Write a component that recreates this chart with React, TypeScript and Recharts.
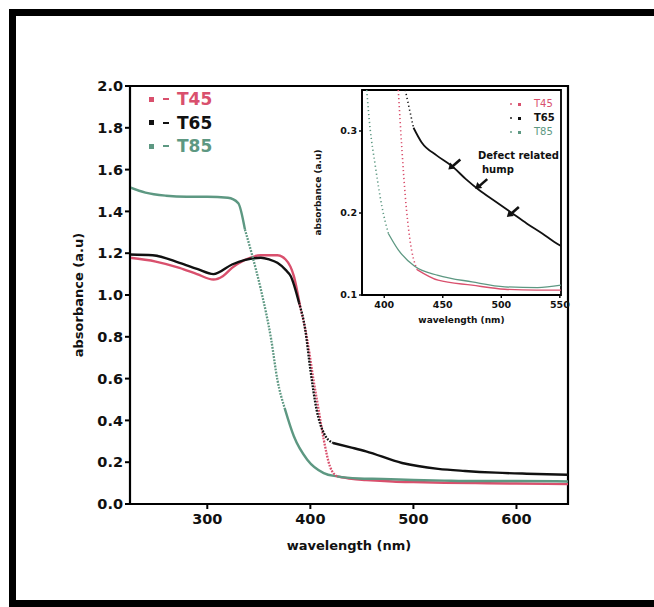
import React from 'react';
import { LineChart, Line, XAxis, YAxis, ReferenceArea, ReferenceDot } from 'recharts';

const seriesNames = ['T45', 'T65', 'T85'];

// main panel, wavelength (nm) / absorbance
const t45Nm = [225, 250, 273, 290, 306, 315, 324, 336, 352, 368, 376, 384, 390, 397, 403, 408, 413, 419, 426, 440, 454, 480, 500, 530, 560, 600, 650];
const t45Abs = [1.178, 1.16, 1.13, 1.1, 1.074, 1.09, 1.13, 1.167, 1.19, 1.19, 1.17, 1.09, 0.946, 0.787, 0.595, 0.452, 0.308, 0.18, 0.132, 0.12, 0.115, 0.108, 0.105, 0.102, 0.1, 0.098, 0.095];

const t65Nm = [225, 247, 273, 290, 306, 324, 336, 352, 360, 368, 376, 381, 389, 395, 400, 406, 413, 422, 440, 454, 489, 524, 550, 580, 610, 650];
const t65Abs = [1.194, 1.19, 1.154, 1.125, 1.1, 1.146, 1.167, 1.178, 1.17, 1.154, 1.12, 1.09, 0.963, 0.835, 0.643, 0.452, 0.34, 0.292, 0.27, 0.252, 0.196, 0.168, 0.158, 0.15, 0.145, 0.14];

const t85Nm = [225, 240, 260, 280, 300, 320, 330, 336.5, 343, 352, 362, 368, 375, 384, 397, 413, 426, 447, 470, 500, 530, 560, 600, 650];
const t85Abs = [1.515, 1.49, 1.475, 1.47, 1.47, 1.465, 1.44, 1.314, 1.2, 1.026, 0.787, 0.595, 0.46, 0.324, 0.212, 0.148, 0.132, 0.122, 0.12, 0.115, 0.112, 0.11, 0.11, 0.108];

// steep parts where the symbols spread out and the trace looks dotted
const mainSteep = [[390, 426], [389, 422], [336.5, 375]];

// inset (zoom of the absorption edge)
const t45InsetNm = [412, 415, 418, 422, 428, 446, 475, 503, 530, 551];
const t45InsetAbs = [0.35, 0.28, 0.22, 0.167, 0.131, 0.118, 0.112, 0.107, 0.106, 0.106];

const t65InsetNm = [418, 421, 425, 432, 445, 458, 470, 481, 495, 509, 522, 535, 545, 552];
const t65InsetAbs = [0.35, 0.33, 0.304, 0.286, 0.27, 0.257, 0.241, 0.228, 0.214, 0.2, 0.187, 0.175, 0.165, 0.159];

const t85InsetNm = [385, 388, 392, 398, 403.5, 412, 426, 446, 475, 503, 531, 551];
const t85InsetAbs = [0.35, 0.302, 0.261, 0.208, 0.175, 0.155, 0.135, 0.124, 0.116, 0.11, 0.109, 0.112];

const insetSteep = [[412, 428], [418, 425], [385, 403.5]];

// arrows pointing at the defect related hump on T65
const humpArrowNm = [459, 482, 509];
const humpArrowAbs = [0.258, 0.234, 0.2];

const mainNmTicks = [300, 400, 500, 600];
const mainNmMinor = [250, 350, 450, 550];
const mainAbsTicks = [0, 0.2, 0.4, 0.6, 0.8, 1.0, 1.2, 1.4, 1.6, 1.8, 2.0];
const mainAbsMinor = [0.1, 0.3, 0.5, 0.7, 0.9, 1.1, 1.3, 1.5, 1.7, 1.9];
const insetNmTicks = [400, 450, 500, 550];
const insetNmMinor = [425, 475, 525];
const insetAbsTicks = [0.1, 0.2, 0.3];
const insetAbsMinor = [0.15, 0.25];

const COLORS = ['#d9506d', '#111111', '#5d9882'];
const FONT = '"DejaVu Sans", "Liberation Sans", Arial, sans-serif';

type Pt = { nm: number; solid: number | null; dotted: number | null };

const splitSteep = (nm: number[], abs: number[], range: number[]): Pt[] =>
  nm.map((x, i) => ({
    nm: x,
    solid: x <= range[0] || x >= range[1] ? abs[i] : null,
    dotted: x >= range[0] && x <= range[1] ? abs[i] : null,
  }));

const mainSeries = [
  splitSteep(t45Nm, t45Abs, mainSteep[0]),
  splitSteep(t65Nm, t65Abs, mainSteep[1]),
  splitSteep(t85Nm, t85Abs, mainSteep[2]),
];

const insetSeries = [
  splitSteep(t45InsetNm, t45InsetAbs, insetSteep[0]),
  splitSteep(t65InsetNm, t65InsetAbs, insetSteep[1]),
  splitSteep(t85InsetNm, t85InsetAbs, insetSteep[2]),
];

const blank = () => '';

// rotated y title drawn next to the axis
const yTitle = (text: string, dx: number, size: number) => (p: any) => {
  const vb = p.viewBox;
  const x = vb.x + dx;
  const y = vb.y + vb.height / 2;
  return (
    <text x={x} y={y} transform={`rotate(-90 ${x} ${y})`} textAnchor="middle" dominantBaseline="central"
      fontFamily={FONT} fontWeight="bold" fontSize={size} fill="#111">
      {text}
    </text>
  );
};

const Arrow = (p: any) => {
  const { cx, cy } = p;
  if (cx == null || cy == null) return null;
  return (
    <g>
      <line x1={cx + 7} y1={cy - 6} x2={cx - 1} y2={cy + 1} stroke="#111" strokeWidth={2.6} />
      <polygon points={`${cx - 5},${cy + 4} ${cx + 2},${cy + 3} ${cx - 3},${cy - 3}`} fill="#111" />
    </g>
  );
};

const tickStyle = { fontFamily: FONT, fontWeight: 'bold', fill: '#111' };

const App = () => {
  return (
    <div style={{ position: 'absolute', left: 0, top: 0, width: 654, height: 607, overflow: 'hidden', background: '#fff', fontFamily: FONT }}>
      {/* outer figure frame */}
      <div style={{ position: 'absolute', left: 9, top: 9, width: 680, height: 598, boxSizing: 'border-box', borderLeft: '7px solid #000', borderTop: '7px solid #000', borderBottom: '7px solid #000' }} />

      <div style={{ position: 'absolute', left: 0, top: 0 }}>
        <LineChart width={654} height={607} margin={{ top: 86, right: 86, bottom: 73, left: 70 }}>
          <XAxis xAxisId="xm" type="number" dataKey="nm" domain={[225, 650]} ticks={mainNmMinor} tickFormatter={blank}
            tickSize={3} height={0} axisLine={false} tickLine={{ stroke: '#000', strokeWidth: 1.5 }} allowDataOverflow />
          <XAxis xAxisId="x" type="number" dataKey="nm" domain={[225, 650]} ticks={mainNmTicks} tickSize={5} tickMargin={5}
            height={30} axisLine={{ stroke: '#000', strokeWidth: 2 }} tickLine={{ stroke: '#000', strokeWidth: 2 }}
            tick={{ ...tickStyle, fontSize: 14.5 }} allowDataOverflow
            label={{ value: 'wavelength (nm)', position: 'bottom', offset: 7, style: { ...tickStyle, fontSize: 13 } }} />
          <YAxis yAxisId="ym" type="number" domain={[0, 2]} ticks={mainAbsMinor} tickFormatter={blank} tickSize={3}
            width={0} axisLine={false} tickLine={{ stroke: '#000', strokeWidth: 1.5 }} allowDataOverflow />
          <YAxis yAxisId="y" type="number" domain={[0, 2]} ticks={mainAbsTicks} tickFormatter={(v: number) => v.toFixed(1)}
            tickSize={5} tickMargin={2} width={60} axisLine={{ stroke: '#000', strokeWidth: 2 }}
            tickLine={{ stroke: '#000', strokeWidth: 2 }} tick={{ ...tickStyle, fontSize: 14.5 }} allowDataOverflow
            label={{ value: 'absorbance (a.u)', content: yTitle('absorbance (a.u)', 8, 13) }} />
          <ReferenceArea xAxisId="x" yAxisId="y" x1={225} x2={650} y1={0} y2={2} fill="none" stroke="#000" strokeWidth={2.2} />
          {mainSeries.map((pts, i) => (
            <Line key={`s${i}`} data={pts} dataKey="solid" xAxisId="x" yAxisId="y" type="monotone" stroke={COLORS[i]}
              strokeWidth={2.4} dot={false} connectNulls={false} isAnimationActive={false} />
          ))}
          {mainSeries.map((pts, i) => (
            <Line key={`d${i}`} data={pts} dataKey="dotted" xAxisId="x" yAxisId="y" type="monotone" stroke={COLORS[i]}
              strokeWidth={2.3} strokeDasharray="1.8 1.3" dot={false} connectNulls={false} isAnimationActive={false} />
          ))}
        </LineChart>
      </div>

      {/* main legend */}
      {seriesNames.map((name, i) => (
        <div key={name} style={{ position: 'absolute', left: 149, top: 90 + i * 23.5, height: 18, display: 'flex', alignItems: 'center' }}>
          <span style={{ width: 5, height: 5, background: COLORS[i], marginRight: 9 }} />
          <span style={{ width: 6, height: 2, background: COLORS[i], marginRight: 8 }} />
          <span style={{ color: COLORS[i], fontWeight: 'bold', fontSize: 17, lineHeight: '18px' }}>{name}</span>
        </div>
      ))}

      {/* inset */}
      <div style={{ position: 'absolute', left: 300, top: 80 }}>
        <LineChart width={275} height={255} margin={{ top: 10, right: 14, bottom: 20, left: 22 }}>
          <XAxis xAxisId="xm" type="number" dataKey="nm" domain={[381, 551]} ticks={insetNmMinor} tickFormatter={blank}
            tickSize={2} height={0} axisLine={false} tickLine={{ stroke: '#000', strokeWidth: 1 }} allowDataOverflow />
          <XAxis xAxisId="x" type="number" dataKey="nm" domain={[381, 551]} ticks={insetNmTicks} tickSize={3} tickMargin={3}
            height={20} axisLine={{ stroke: '#000', strokeWidth: 1.6 }} tickLine={{ stroke: '#000', strokeWidth: 1.4 }}
            tick={{ ...tickStyle, fontSize: 9.5 }} allowDataOverflow
            label={{ value: 'wavelength (nm)', position: 'bottom', offset: 2, style: { ...tickStyle, fontSize: 9 } }} />
          <YAxis yAxisId="ym" type="number" domain={[0.1, 0.35]} ticks={insetAbsMinor} tickFormatter={blank} tickSize={2}
            width={0} axisLine={false} tickLine={{ stroke: '#000', strokeWidth: 1 }} allowDataOverflow />
          <YAxis yAxisId="y" type="number" domain={[0.1, 0.35]} ticks={insetAbsTicks} tickFormatter={(v: number) => v.toFixed(1)}
            tickSize={3} tickMargin={2} width={40} axisLine={{ stroke: '#000', strokeWidth: 1.6 }}
            tickLine={{ stroke: '#000', strokeWidth: 1.4 }} tick={{ ...tickStyle, fontSize: 9.5 }} allowDataOverflow
            label={{ value: 'absorbance (a.u)', content: yTitle('absorbance (a.u)', -4, 9) }} />
          <ReferenceArea xAxisId="x" yAxisId="y" x1={381} x2={551} y1={0.1} y2={0.35} fill="none" stroke="#000" strokeWidth={1.8} />
          {insetSeries.map((pts, i) => (
            <Line key={`is${i}`} data={pts} dataKey="solid" xAxisId="x" yAxisId="y" type="monotone" stroke={COLORS[i]}
              strokeWidth={i === 1 ? 1.8 : 1.3} dot={false} connectNulls={false} isAnimationActive={false} />
          ))}
          {insetSeries.map((pts, i) => (
            <Line key={`id${i}`} data={pts} dataKey="dotted" xAxisId="x" yAxisId="y" type="monotone" stroke={COLORS[i]}
              strokeWidth={1.6} strokeDasharray="1.2 2.8" dot={false} connectNulls={false} isAnimationActive={false} />
          ))}
          {humpArrowNm.map((nm, i) => (
            <ReferenceDot key={`a${i}`} xAxisId="x" yAxisId="y" x={nm} y={humpArrowAbs[i]} r={4} shape={Arrow} />
          ))}
        </LineChart>
      </div>

      {/* inset legend */}
      {seriesNames.map((name, i) => (
        <div key={`il${name}`} style={{ position: 'absolute', left: 510, top: 98 + i * 14, height: 12, display: 'flex', alignItems: 'center' }}>
          <span style={{ width: 2, height: 2, background: COLORS[i], marginRight: 6, opacity: 0.7 }} />
          <span style={{ width: 3, height: 3, background: COLORS[i], marginRight: 13 }} />
          <span style={{ color: COLORS[i], fontWeight: i === 1 ? 'bold' : 'normal', fontSize: 10, lineHeight: '12px' }}>{name}</span>
        </div>
      ))}

      {/* annotation */}
      <div style={{ position: 'absolute', left: 478, top: 149, fontSize: 10, fontWeight: 'bold', lineHeight: '14px', color: '#111' }}>
        Defect related<br />
        <span style={{ marginLeft: 4 }}>hump</span>
      </div>
    </div>
  );
};

export default App;
